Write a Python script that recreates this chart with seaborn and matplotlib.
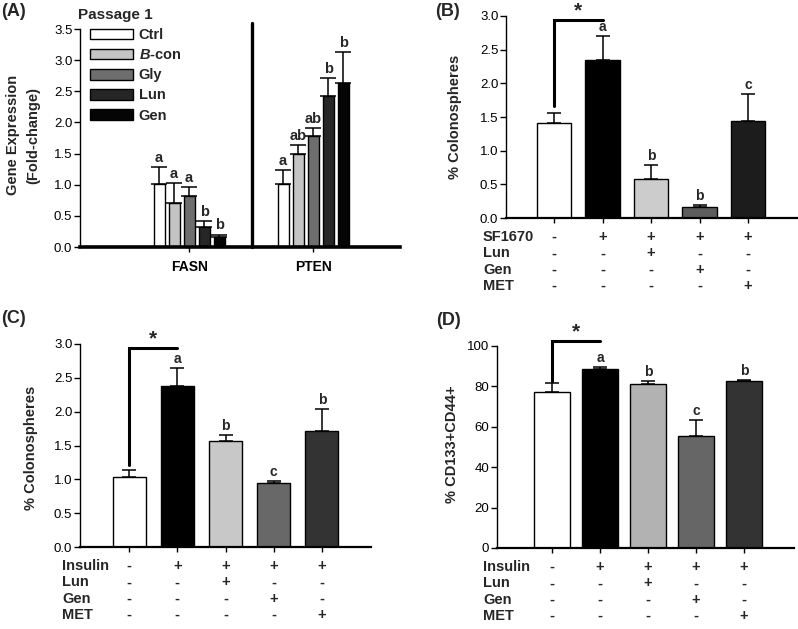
import numpy as np
import pandas as pd
import matplotlib
matplotlib.use("Agg")
import matplotlib.pyplot as plt
import matplotlib.transforms as mtransforms
import seaborn as sns

# ---------------- data ----------------
genes = ["FASN", "PTEN"]
treatments = ["Ctrl", "B-con", "Gly", "Lun", "Gen"]
fasn_vals = [1.01, 0.71, 0.82, 0.32, 0.155]
fasn_err = [0.27, 0.32, 0.14, 0.10, 0.045]
fasn_letters = ["a", "a", "a", "b", "b"]
pten_vals = [1.01, 1.50, 1.79, 2.42, 2.63]
pten_err = [0.22, 0.13, 0.12, 0.29, 0.50]
pten_letters = ["a", "ab", "ab", "b", "b"]

b_vals = [1.41, 2.34, 0.58, 0.16, 1.44]
b_err = [0.15, 0.36, 0.20, 0.03, 0.40]
b_letters = ["", "a", "b", "b", "c"]
b_rows = ["SF1670", "Lun", "Gen", "MET"]

c_vals = [1.04, 2.38, 1.57, 0.94, 1.72]
c_err = [0.10, 0.26, 0.09, 0.03, 0.32]
c_letters = ["", "a", "b", "c", "b"]
cd_rows = ["Insulin", "Lun", "Gen", "MET"]

d_vals = [77.2, 88.4, 81.2, 55.3, 82.7]
d_err = [4.5, 1.4, 1.3, 8.2, 0.4]
d_letters = ["", "a", "b", "c", "b"]

signs = [["-", "+", "+", "+", "+"],
         ["-", "-", "+", "-", "-"],
         ["-", "-", "-", "+", "-"],
         ["-", "-", "-", "-", "+"]]
groups = ["g1", "g2", "g3", "g4", "g5"]

# ---------------- style ----------------
sns.set_theme(style="ticks")
plt.rcParams["font.family"] = ["Liberation Sans", "DejaVu Sans"]
plt.rcParams["mathtext.fontset"] = "custom"
plt.rcParams["mathtext.rm"] = "Liberation Sans"
plt.rcParams["mathtext.it"] = "Liberation Sans:italic"
plt.rcParams["mathtext.bf"] = "Liberation Sans:bold"
try:
    plt.rcParams["mathtext.bfit"] = "Liberation Sans:italic:bold"
    BCON = r"$\mathbfit{B}$-con"
except Exception:
    BCON = "B-con"

W, H = 798, 629
fig = plt.figure(figsize=(W / 100, H / 100), dpi=100)


def px_axes(left, top, right, bottom):
    return fig.add_axes([left / W, 1 - bottom / H, (right - left) / W, (bottom - top) / H])


def style_axes(ax, xlw=1.6):
    sns.despine(ax=ax)
    ax.spines["left"].set_linewidth(1.0)
    ax.spines["bottom"].set_linewidth(xlw)
    ax.spines["left"].set_color("black")
    ax.spines["bottom"].set_color("black")
    ax.tick_params(axis="y", direction="out", length=4, width=1, labelsize=9.5,
                   colors="black", pad=1.5)
    ax.tick_params(axis="x", direction="out", length=3.5, width=1, labelsize=10,
                   colors="black", pad=6)
    ax.set_xlabel("")
    ax.set_ylabel("")
    ax.set_facecolor("none")


def add_errs(ax, xs, vals, errs, letters, capsize, fs=10):
    for x, v, e, l in zip(xs, vals, errs, letters):
        ax.errorbar([x], [v], yerr=[[0], [e]], fmt="none", ecolor="black",
                    elinewidth=1.1, capsize=capsize, capthick=1.1, zorder=3)
        if l:
            ax.annotate(l, (x, v + e), xytext=(0, 1.5), textcoords="offset points",
                        ha="center", va="bottom", fontsize=fs, fontweight="bold",
                        annotation_clip=False)


def bracket(ax, xs, vals, errs, top, pad):
    x0, x1 = xs[0], xs[1]
    y0 = vals[0] + errs[0] + pad
    ax.plot([x0, x0, x1], [y0, top, top], color="black", lw=2.2,
            solid_joinstyle="miter", clip_on=False, zorder=4)
    ax.annotate("*", ((x0 + x1) / 2, top), xytext=(0, 0), textcoords="offset points",
                ha="center", va="bottom", fontsize=15, fontweight="bold",
                annotation_clip=False)


def table(ax, xs, rows, label_x):
    trans = mtransforms.blended_transform_factory(ax.transData, fig.transFigure)
    ax_bottom = ax.get_position().y0
    for i, (row, s) in enumerate(zip(rows, signs)):
        y = ax_bottom - (19 + 16.3 * i) / H
        fig.text(label_x / W, y, row, ha="left", va="center", fontsize=10.5,
                 fontweight="bold")
        for x, sg in zip(xs, s):
            fig.text(x, y, sg, transform=trans, ha="center", va="center",
                     fontsize=10.5, fontweight="bold")


def ylabel(text, cx, cy, ls=1.2):
    fig.text(cx / W, 1 - cy / H, text, rotation=90, ha="center", va="center",
             multialignment="center", fontsize=10.5, fontweight="bold", linespacing=ls)


def centers(ax):
    return [p.get_x() + p.get_width() / 2 for p in ax.patches[:5]]


# ---------------- Panel A ----------------
axA = px_axes(80, 29, 400, 247)
dfA = pd.DataFrame({
    "gene": np.repeat(genes, len(treatments)),
    "treatment": treatments * 2,
    "value": fasn_vals + pten_vals,
})
colA = ["#ffffff", "#c4c4c4", "#6e6e6e", "#262626", "#050505"]
sns.barplot(data=dfA, x="gene", y="value", hue="treatment", hue_order=treatments,
            order=genes, palette=colA, width=0.605, gap=0.27, edgecolor="black",
            linewidth=1.0, ax=axA, legend=True, zorder=2)
axA.set_xlim(-0.879, 1.70)
axA.set_ylim(0, 3.5)
axA.set_yticks(np.arange(0, 3.51, 0.5))
axA.set_yticklabels([f"{v:.1f}" for v in np.arange(0, 3.51, 0.5)])
style_axes(axA, xlw=2.6)
axA.set_xticks([0, 1])
axA.set_xticklabels(genes, fontweight="bold")
for cont, ti in zip(axA.containers, range(len(treatments))):
    xs = [p.get_x() + p.get_width() / 2 for p in cont.patches]
    add_errs(axA, xs, [fasn_vals[ti], pten_vals[ti]], [fasn_err[ti], pten_err[ti]],
             [fasn_letters[ti], pten_letters[ti]], capsize=5.5, fs=10.5)
sep_x = 0.508
axA.plot([sep_x, sep_x], [0, 3.6], color="black", lw=2.4, clip_on=False, zorder=4)
handles, labels = axA.get_legend_handles_labels()
axA.get_legend().remove()
disp = [BCON if l == "B-con" else l for l in labels]
leg = axA.legend(handles, disp, loc="upper left", bbox_to_anchor=(90 / W, 1 - 28 / H),
                 bbox_transform=fig.transFigure, frameon=False, borderpad=0,
                 borderaxespad=0, handlelength=2.95, handleheight=0.75,
                 handletextpad=0.4, labelspacing=0.42, prop={"weight": "bold", "size": 10.5})
fig.text(78 / W, 1 - 15 / H, "Passage 1", ha="left", va="center", fontsize=11,
         fontweight="bold")
ylabel("Gene Expression\n(Fold-change)", 23, 135, ls=1.55)

# ---------------- Panel B ----------------
axB = px_axes(506, 16, 797, 218)
colB = ["#ffffff", "#000000", "#cccccc", "#5e5e5e", "#1c1c1c"]
sns.barplot(x=groups, y=b_vals, hue=groups, palette=colB, width=0.72,
            edgecolor="black", linewidth=1.0, ax=axB, legend=False, zorder=2)
axB.set_xlim(-0.99, 5.01)
axB.set_ylim(0, 3.0)
axB.set_yticks(np.arange(0, 3.01, 0.5))
axB.set_yticklabels([f"{v:.1f}" for v in np.arange(0, 3.01, 0.5)])
style_axes(axB)
axB.set_xticklabels([])
xsB = centers(axB)
add_errs(axB, xsB, b_vals, b_err, b_letters, capsize=5)
bracket(axB, xsB, b_vals, b_err, 2.94, 0.1)
table(axB, xsB, b_rows, 483)
ylabel("% Colonospheres", 455, 117)

# ---------------- Panel C ----------------
axC = px_axes(80, 344, 371, 547)
colC = ["#ffffff", "#000000", "#c8c8c8", "#686868", "#333333"]
sns.barplot(x=groups, y=c_vals, hue=groups, palette=colC, width=0.69,
            edgecolor="black", linewidth=1.0, ax=axC, legend=False, zorder=2)
axC.set_xlim(-1.02, 5.02)
axC.set_ylim(0, 3.0)
axC.set_yticks(np.arange(0, 3.01, 0.5))
axC.set_yticklabels([f"{v:.1f}" for v in np.arange(0, 3.01, 0.5)])
style_axes(axC)
axC.set_xticklabels([])
xsC = centers(axC)
add_errs(axC, xsC, c_vals, c_err, c_letters, capsize=5)
bracket(axC, xsC, c_vals, c_err, 2.94, 0.07)
table(axC, xsC, cd_rows, 62)
ylabel("% Colonospheres", 31, 448)

# ---------------- Panel D ----------------
axD = px_axes(497, 346, 794, 548)
colD = ["#ffffff", "#000000", "#b2b2b2", "#666666", "#333333"]
sns.barplot(x=groups, y=d_vals, hue=groups, palette=colD, width=0.75,
            edgecolor="black", linewidth=1.0, ax=axD, legend=False, zorder=2)
axD.set_xlim(-1.15, 5.04)
axD.set_ylim(0, 100)
axD.set_yticks(np.arange(0, 101, 20))
style_axes(axD)
axD.set_xticklabels([])
xsD = centers(axD)
add_errs(axD, xsD, d_vals, d_err, d_letters, capsize=5)
bracket(axD, xsD, d_vals, d_err, 102.5, 1.0)
table(axD, xsD, cd_rows, 483)
ylabel("% CD133+CD44+", 452, 444)

# ---------------- panel labels ----------------
for lab, x, y in [("(A)", 1, 3), ("(B)", 435, 3), ("(C)", 1, 310), ("(D)", 436, 312)]:
    fig.text(x / W, 1 - y / H, lab, ha="left", va="top", fontsize=13, fontweight="bold")

fig.savefig("out.png", dpi=100, facecolor="white")
